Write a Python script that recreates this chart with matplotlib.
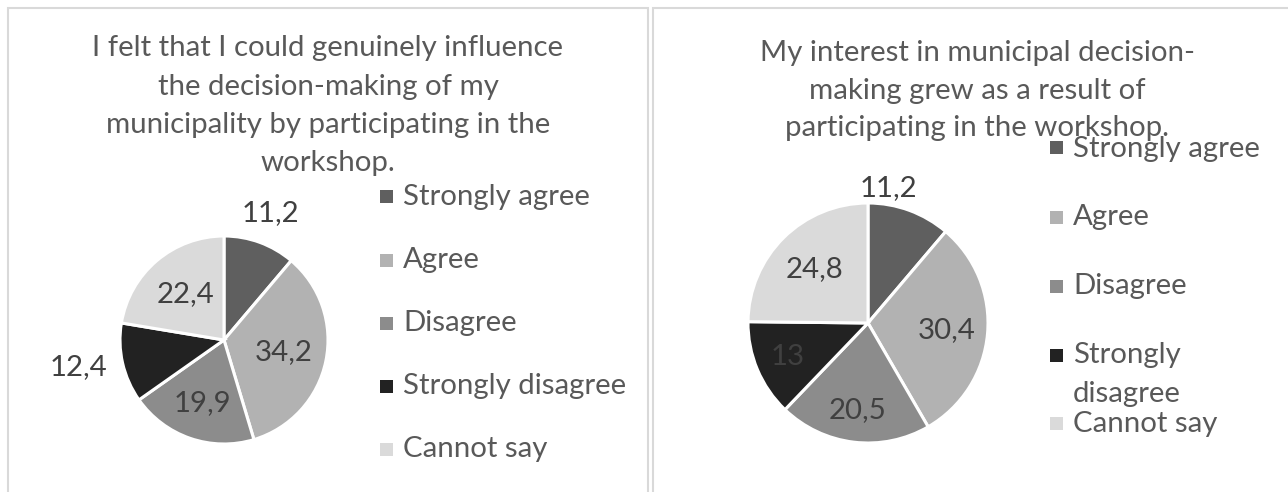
import matplotlib
matplotlib.use("Agg")
import matplotlib.pyplot as plt
from matplotlib.patches import Rectangle
import numpy as np

# ---- data ----
categories = ["Strongly agree", "Agree", "Disagree", "Strongly disagree", "Cannot say"]
values_left = [11.2, 34.2, 19.9, 12.4, 22.4]
values_right = [11.2, 30.4, 20.5, 13.0, 24.8]
labels_left = ["11,2", "34,2", "19,9", "12,4", "22,4"]
labels_right = ["11,2", "30,4", "20,5", "13", "24,8"]
title_left = ["I felt that I could genuinely influence",
              "the decision-making of my",
              "municipality by participating in the",
              "workshop."]
title_right = ["My interest in municipal decision-",
               "making grew as a result of",
               "participating in the workshop."]
legend_right_labels = ["Strongly agree", "Agree", "Disagree", "Strongly\ndisagree", "Cannot say"]

# ---- style ----
colors = ["#5f5f5f", "#b2b2b2", "#8c8c8c", "#222222", "#dadada"]
FONT = "Lato"
FS = 21.2
TITLE_C = "#595959"
LEG_C = "#595959"
LAB_C = "#404040"

W, H = 1288, 492
fig = plt.figure(figsize=(W / 100, H / 100), dpi=100)
plt.rcParams['font.family'] = [FONT, 'DejaVu Sans']


def fx(x):
    return x / W


def fy(y):
    return 1 - y / H


# panel borders
border_c = "#d9d9d9"
fig.add_artist(Rectangle((fx(7.5), fy(500)), fx(641), (500 - 7.5) / H,
                         transform=fig.transFigure, fill=False, ec=border_c, lw=1.5))
fig.add_artist(Rectangle((fx(653), fy(500)), fx(700), (500 - 8) / H,
                         transform=fig.transFigure, fill=False, ec=border_c, lw=1.5))


def draw_pie(cx, cy, r, values, labels, dists, has):
    ax = fig.add_axes([fx(cx - r), fy(cy + r), 2 * r / W, 2 * r / H])
    wedges, _ = ax.pie(values, colors=colors, startangle=90, counterclock=False,
                       radius=1, wedgeprops=dict(edgecolor="white", linewidth=2.2))
    ax.set_xlim(-1, 1)
    ax.set_ylim(-1, 1)
    ax.axis("off")
    for w, lab, d, ha in zip(wedges, labels, dists, has):
        ang = np.deg2rad((w.theta1 + w.theta2) / 2)
        ax.text(d * np.cos(ang), d * np.sin(ang), lab, ha=ha, va="center",
                fontsize=FS, color=LAB_C, clip_on=False)
    return ax


draw_pie(224, 340, 104, values_left, labels_left,
         [1.3, 0.59, 0.64, 1.15, 0.58], ["center", "center", "center", "right", "center"])
draw_pie(868, 323, 120, values_right, labels_right,
         [1.2, 0.66, 0.73, 0.73, 0.63], ["right", "center", "center", "center", "center"])

# titles
for i, line in enumerate(title_left):
    fig.text(fx(328), fy(56 + 38.5 * i), line, ha="center", va="baseline",
             fontsize=FS, color=TITLE_C)
for i, line in enumerate(title_right):
    fig.text(fx(977), fy(61 + 37.5 * i), line, ha="center", va="baseline",
             fontsize=FS, color=TITLE_C)


# legends
def draw_legend(mx, tx, marker_ys, base_ys, labels):
    for c, my, by, lab in zip(colors, marker_ys, base_ys, labels):
        fig.add_artist(Rectangle((fx(mx), fy(my + 6.5)), 13 / W, 13 / H,
                                 transform=fig.transFigure, fc=c, ec="none"))
        lines = lab.split("\n")
        for j, ln in enumerate(lines):
            fig.text(fx(tx), fy(by + 39 * j), ln, ha="left", va="baseline",
                     fontsize=FS, color=LEG_C)


draw_legend(380, 403, [196.5, 260, 323, 386, 449], [205, 268, 331, 394, 457], categories)
draw_legend(1050, 1073, [147.5, 217, 286, 355, 423], [157, 225, 294, 363, 432],
            legend_right_labels)

fig.savefig("out.png", dpi=100)
